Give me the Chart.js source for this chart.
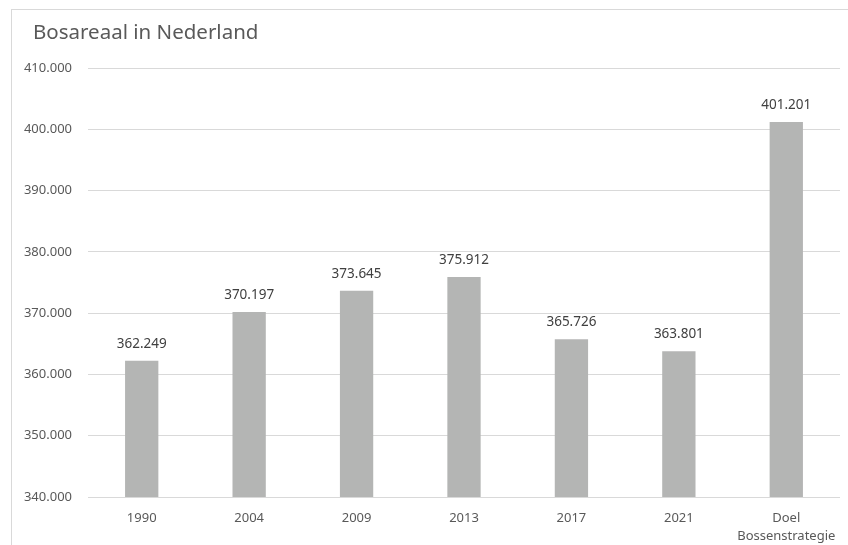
<!DOCTYPE html>
<html>
<head>
<meta charset="utf-8">
<script src="https://cdn.jsdelivr.net/npm/chart.js@4"></script>
<style>
  html, body { margin: 0; padding: 0; background: #ffffff; overflow: hidden; }
  #wrap { position: relative; width: 848px; height: 545px; }
  #frame {
    position: absolute; left: 11px; top: 9px; width: 900px; height: 600px;
    border-left: 1px solid #d9d9d9; border-top: 1px solid #d9d9d9;
    pointer-events: none;
  }
  canvas { position: absolute; left: 0; top: 0; }
</style>
</head>
<body>
<div id="wrap">
  <canvas id="bosChart" width="848" height="545"></canvas>
  <div id="frame"></div>
</div>
<script>
// Bosareaal (ha) per jaar
const categorieen = ["1990", "2004", "2009", "2013", "2017", "2021", ["Doel", "Bossenstrategie"]];
const bosareaal = [362249, 370197, 373645, 375912, 365726, 363801, 401201];
const yMin = 340000;
const yMax = 410000;
const yStap = 10000;

const FONT = "'Noto Sans', 'Open Sans', sans-serif";

// getal met punt als duizendtal-scheiding
function formatNL(n) {
  return String(Math.round(n)).replace(/\B(?=(\d{3})+(?!\d))/g, ".");
}

// titel linksboven
const titelPlugin = {
  id: "titel",
  afterDraw(chart) {
    const ctx = chart.ctx;
    ctx.save();
    ctx.font = "20.5px " + FONT;
    ctx.fillStyle = "#595959";
    ctx.textBaseline = "middle";
    ctx.textAlign = "left";
    ctx.fillText("Bosareaal in Nederland", 33, 33);
    ctx.restore();
  }
};

// waardes boven de balken
const labelPlugin = {
  id: "waardes",
  afterDatasetsDraw(chart) {
    const ctx = chart.ctx;
    const meta = chart.getDatasetMeta(0);
    ctx.save();
    ctx.font = "13.5px " + FONT;
    ctx.fillStyle = "#404040";
    ctx.textAlign = "center";
    ctx.textBaseline = "bottom";
    meta.data.forEach((bar, i) => {
      ctx.fillText(formatNL(bosareaal[i]), bar.x, bar.y - 10);
    });
    ctx.restore();
  }
};

new Chart(document.getElementById("bosChart"), {
  type: "bar",
  data: {
    labels: categorieen,
    datasets: [{
      data: bosareaal,
      backgroundColor: "#b4b5b4",
      borderWidth: 0,
      categoryPercentage: 1,
      barPercentage: 0.31
    }]
  },
  options: {
    responsive: false,
    animation: false,
    layout: { padding: { top: 68, right: 8, bottom: 0, left: 0 } },
    plugins: {
      legend: { display: false },
      tooltip: { enabled: false },
      title: { display: false }
    },
    scales: {
      x: {
        grid: { display: false, drawTicks: false },
        border: { display: false },
        ticks: {
          color: "#595959",
          font: { family: FONT, size: 13, lineHeight: 1.4 },
          padding: 12,
          maxRotation: 0,
          autoSkip: false
        },
        afterFit(scale) { scale.height = 48; }
      },
      y: {
        min: yMin,
        max: yMax,
        grid: { color: "#d9d9d9", drawTicks: false },
        border: { display: false },
        ticks: {
          stepSize: yStap,
          color: "#595959",
          font: { family: FONT, size: 13 },
          padding: 16,
          callback: (v) => formatNL(v)
        },
        afterFit(scale) { scale.width = 88; }
      }
    }
  },
  plugins: [titelPlugin, labelPlugin]
});
</script>
</body>
</html>
